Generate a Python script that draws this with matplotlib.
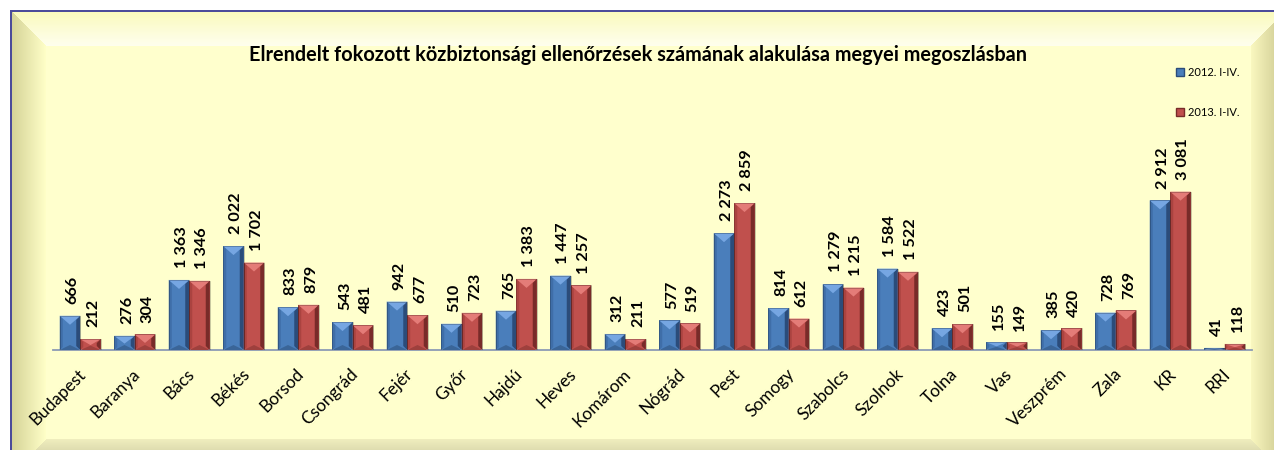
import numpy as np
import matplotlib
matplotlib.use("Agg")
import matplotlib.pyplot as plt
from matplotlib.patches import Polygon, Patch, Rectangle
from matplotlib.transforms import ScaledTranslation

# ---- data -------------------------------------------------------------
categories = ["Budapest", "Baranya", "Bács", "Békés", "Borsod", "Csongrád",
              "Fejér", "Győr", "Hajdú", "Heves", "Komárom", "Nógrád", "Pest",
              "Somogy", "Szabolcs", "Szolnok", "Tolna", "Vas", "Veszprém",
              "Zala", "KR", "RRI"]
values_2012 = [666, 276, 1363, 2022, 833, 543, 942, 510, 765, 1447, 312, 577,
               2273, 814, 1279, 1584, 423, 155, 385, 728, 2912, 41]
values_2013 = [212, 304, 1346, 1702, 879, 481, 677, 723, 1383, 1257, 211, 519,
               2859, 612, 1215, 1522, 501, 149, 420, 769, 3081, 118]
series_labels = ["2012. I-IV.", "2013. I-IV."]
title = "Elrendelt fokozott közbiztonsági ellenőrzések számának alakulása megyei megoszlásban"

plt.rcParams["font.family"] = ["Lato", "DejaVu Sans"]

W, H = 1274, 450
fig = plt.figure(figsize=(W / 100, H / 100), dpi=100)

# ---- bevelled pale-yellow panel as background --------------------------
L, T, R, B, bw = 11, 11, 1286, 474, 35
yy, xx = np.mgrid[0:H, 0:W].astype(float) + 0.5
img = np.ones((H, W, 3))
panel = np.array([255, 255, 205]) / 255
inside = (xx >= L) & (yy >= T)
dist = np.stack([xx - L, R - xx, yy - T, B - yy])
face = dist.argmin(axis=0)
dmin = dist.min(axis=0)
t = np.clip(dmin / bw, 0, 1)[..., None]
face_cols = {
    0: (np.array([212, 210, 150]), np.array([255, 255, 200])),   # left
    1: (np.array([200, 196, 140]), np.array([250, 248, 192])),   # right
    2: (np.array([250, 250, 188]), np.array([255, 255, 238])),   # top
    3: (np.array([185, 183, 145]), np.array([240, 238, 190])),   # bottom
}
for k, (c0, c1) in face_cols.items():
    m = inside & (face == k) & (dmin < bw)
    col = (c0 + (c1 - c0) * t) / 255
    img[m] = col[m]
m = inside & (dmin >= bw)
img[m] = panel
# frame line along the top and left edges
img[T - 1:T + 1, L - 1:] = np.array([75, 75, 154]) / 255
img[T - 1:, L - 1:L + 1] = np.array([75, 75, 154]) / 255

bg = fig.add_axes([0, 0, 1, 1], zorder=-2)
bg.imshow(img, extent=(0, W, H, 0), aspect="auto", interpolation="nearest")
bg.set_xlim(0, W)
bg.set_ylim(H, 0)
bg.axis("off")

# ---- main axes ---------------------------------------------------------
ax_left, ax_right, base_px, ymax, px_per_unit = 53, 1252, 350, 3500, 0.0514
ax = fig.add_axes([ax_left / W, (H - base_px) / H, (ax_right - ax_left) / W,
                   ymax * px_per_unit / H])
ax.set_facecolor("none")
n = len(categories)
ax.set_xlim(-0.5, n - 0.5)
ax.set_ylim(0, ymax)
for s in ["top", "right", "left"]:
    ax.spines[s].set_visible(False)
ax.spines["bottom"].set_color("#8C9BB5")
ax.spines["bottom"].set_linewidth(1.3)
ax.set_yticks([])

x = np.arange(n)
bar_w = 0.376
dxp = n / (ax_right - ax_left)        # data units per pixel, x
dyp = 1 / px_per_unit                 # data units per pixel, y

styles = [
    dict(body="#4A7EBB", top="#76A6E2", left="#3F6EA8", right="#2B4C7A", bottom="#3A6598"),
    dict(body="#C0504D", top="#E47C78", left="#AA4340", right="#782B29", bottom="#9E403D"),
]


def bevel_bars(xpos, vals, st):
    bars = ax.bar(xpos, vals, width=bar_w, color=st["body"], linewidth=0, zorder=2)
    for b in bars:
        x0, w, h = b.get_x(), b.get_width(), b.get_height()
        x1, xc = x0 + w, x0 + w / 2
        sl, sr = 3 * dxp, 4 * dxp
        syl, syr = min(3 * dyp, h / 2), min(4 * dyp, h / 2)
        ax.add_patch(Polygon([(x0, h), (x0 + sl, h - syl), (x0 + sl, syl), (x0, 0)],
                             closed=True, color=st["left"], lw=0, zorder=3))
        ax.add_patch(Polygon([(x1, h), (x1 - sr, h - syr), (x1 - sr, syr), (x1, 0)],
                             closed=True, color=st["right"], lw=0, zorder=3))
        dt = min(9 * dyp, h * 0.55)
        ax.add_patch(Polygon([(x0, h), (x1, h), (xc, h - dt)],
                             closed=True, color=st["top"], lw=0, zorder=4))
        db = min(5 * dyp, h * 0.4)
        ax.add_patch(Polygon([(x0, 0), (x1, 0), (xc, db)],
                             closed=True, color=st["bottom"], lw=0, zorder=4))
        ax.add_patch(Rectangle((x0, 0), w, h, fill=False, ec="#00000040", lw=0.6, zorder=5))
    return bars


def fmt(v):
    return f"{v:,}".replace(",", " ")


for xpos, vals, st in [(x - bar_w / 2, values_2012, styles[0]),
                       (x + bar_w / 2, values_2013, styles[1])]:
    bevel_bars(xpos, vals, st)
    for xp, v in zip(xpos, vals):
        ax.annotate(fmt(v), xy=(xp, v), xytext=(2, 8.5), textcoords="offset points",
                    rotation=90, ha="center", va="bottom", fontsize=11.7,
                    fontweight="bold", color="black")

ax.set_xticks(x)
ax.set_xticklabels(categories, rotation=45, ha="right", va="center",
                   rotation_mode="anchor", fontsize=12.4)
ax.tick_params(axis="x", length=0, pad=15.5)
shift = ScaledTranslation(3 / 100, 0, fig.dpi_scale_trans)
for lab in ax.get_xticklabels():
    lab.set_transform(lab.get_transform() + shift)

fig.text(638 / W, 1 - 55 / H, title, ha="center", va="center",
         fontsize=14.3, fontweight="bold")

handles = [Patch(facecolor=styles[0]["body"], edgecolor=styles[0]["right"]),
           Patch(facecolor=styles[1]["body"], edgecolor=styles[1]["right"])]
fig.legend(handles, series_labels, loc="upper left",
           bbox_to_anchor=(1176 / W, 1 - 67 / H), frameon=False, fontsize=8,
           handlelength=0.7, handleheight=0.7, handletextpad=0.4,
           labelspacing=2.6, borderpad=0, borderaxespad=0)

fig.savefig("out.png", dpi=100)
